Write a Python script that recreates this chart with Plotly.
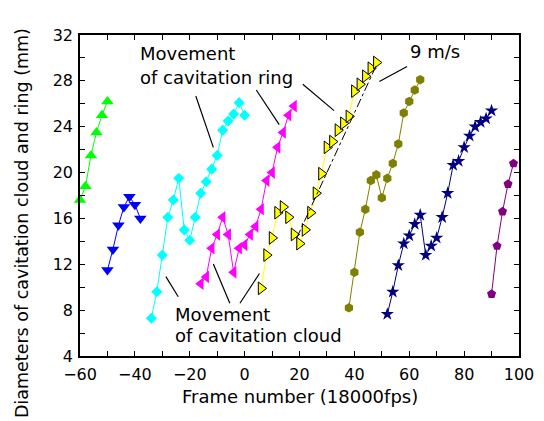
import plotly.graph_objects as go

# ---------------- data ----------------
g_x = [-60, -58, -56, -54, -52, -50]
g_y = [17.6, 18.8, 21.5, 23.5, 25.0, 26.2]

b_x = [-50, -48, -46, -44, -42, -40, -38]
b_y = [11.5, 13.3, 15.4, 17.0, 17.9, 17.2, 16.0]

c_x = [-34, -32, -30, -28, -26, -24, -22, -20, -18, -16, -14, -12, -10, -8, -6, -4, -2, 0]
c_y = [7.3, 9.6, 12.8, 16.1, 17.6, 19.5, 15.0, 14.1, 16.1, 18.2, 19.2, 20.3, 21.5, 23.7, 24.5, 25.1, 26.1, 25.0]

m_x = [-16, -14, -12, -10, -8, -6, -4, -2, 0, 2, 4, 6, 8, 10, 12, 14, 16, 18]
m_y = [10.3, 10.9, 13.4, 14.6, 16.1, 14.6, 11.3, 13.4, 13.7, 14.6, 15.3, 16.8, 19.3, 20.0, 22.2, 23.5, 25.0, 25.8]

y_x = [6, 8, 10, 12, 14, 16, 18, 20, 22, 24, 26, 28, 30, 32, 34, 36, 38, 40, 42, 44, 46, 48]
y_y = [9.9, 12.8, 14.3, 16.5, 17.0, 16.1, 14.6, 13.8, 15.0, 16.5, 18.2, 19.9, 22.2, 22.7, 23.7, 24.3, 24.9, 27.1, 27.7, 28.4, 29.1, 29.6]

o_x = [38, 40, 42, 44, 46, 48, 50, 52, 54, 56, 58, 60, 62, 64]
o_y = [8.2, 11.3, 14.8, 16.8, 19.3, 19.8, 17.8, 19.5, 20.8, 22.5, 25.2, 26.2, 27.2, 28.1]

n_x = [52, 54, 56, 58, 60, 62, 64, 66, 68, 70, 72, 74, 76, 78, 80, 82, 84, 86, 88, 90]
n_y = [7.65, 9.6, 11.9, 13.8, 14.5, 15.5, 16.3, 12.8, 13.6, 14.3, 16.1, 18.2, 20.65, 21.0, 22.2, 23.2, 24.0, 24.4, 24.7, 25.4]

p_x = [90, 92, 94, 96, 98]
p_y = [9.4, 13.6, 16.6, 19.0, 20.8]

fit_x = [19.0, 48.1]
fit_y = [14.3, 29.4]

x_ticks = [-60, -40, -20, 0, 20, 40, 60, 80, 100]
y_ticks = [4, 8, 12, 16, 20, 24, 28, 32]

FONT = "DejaVu Sans"

series = [
    (g_x, g_y, "#00ff00", "triangle-up", 11, None),
    (b_x, b_y, "#0000ff", "triangle-down", 11, None),
    (c_x, c_y, "#00ffff", "diamond", 8.5, None),
    (m_x, m_y, "#ff00ff", "triangle-left", 11, None),
    (y_x, y_y, "#ffff00", "triangle-right", 11, "black"),
    (o_x, o_y, "#808000", "hexagon", 9.5, None),
    (n_x, n_y, "#000080", "star", 10, None),
    (p_x, p_y, "#800080", "pentagon", 9.5, None),
]

fig = go.Figure()
for xs, ys, col, sym, sz, outline in series:
    fig.add_trace(go.Scatter(
        x=xs, y=ys, mode="lines+markers",
        line=dict(color=col, width=1),
        marker=dict(symbol=sym, size=sz, color=col,
                    line=dict(color=outline if outline else col, width=1 if outline else 0)),
        showlegend=False, cliponaxis=False))

fig.add_trace(go.Scatter(x=fit_x, y=fit_y, mode="lines",
                         line=dict(color="black", width=1, dash="dashdot"),
                         showlegend=False))

# leader lines (data coords)
leaders = [
    (-17.8, 26.68, -11.4, 22.2),
    (4.26, 27.2, 12.6, 24.18),
    (21.2, 27.7, 32.6, 25.4),
    (49.1, 27.94, 59.2, 29.25),
    (-28.7, 10.92, -24.2, 9.17),
    (-11.4, 12.03, -5.4, 8.6),
    (-1.7, 8.6, 5.4, 11.2),
]
for x0, y0, x1, y1 in leaders:
    fig.add_shape(type="line", x0=x0, y0=y0, x1=x1, y1=y1, xref="x", yref="y",
                  line=dict(color="black", width=1.2))

texts = [
    ("Movement", -38.8, 30.4),
    ("of cavitation ring", -38.8, 28.3),
    ("Movement", -26.0, 7.6),
    ("of cavitation cloud", -26.0, 5.8),
    ("9 m/s", 59.5, 30.6),
]
for t, x, y in texts:
    fig.add_annotation(text=t, x=x, y=y, xref="x", yref="y", xanchor="left",
                       yanchor="middle", showarrow=False,
                       font=dict(family=FONT, size=18, color="black"))

# axis titles as paper annotations
fig.add_annotation(text="Frame number (18000fps)", x=0.5, y=0, xref="paper", yref="paper",
                   xanchor="center", yanchor="middle", yshift=-40, showarrow=False,
                   font=dict(family=FONT, size=18, color="black"))
fig.add_annotation(text="Diameters of cavitation cloud and ring (mm)", x=0, y=0.414,
                   xref="paper", yref="paper", xanchor="center", yanchor="middle",
                   xshift=-58, textangle=-90, showarrow=False,
                   font=dict(family=FONT, size=17.5, color="black"))

axis_common = dict(showline=True, linecolor="black", linewidth=1.5, mirror="ticks",
                   ticks="inside", ticklen=5, tickwidth=1, tickcolor="black",
                   showgrid=False, zeroline=False, automargin=False,
                   tickfont=dict(family=FONT, size=16, color="black"))

fig.update_xaxes(range=[-60, 100], tickvals=x_ticks, ticklabelstandoff=3,
                 minor=dict(dtick=10, ticks="inside", ticklen=5, tickcolor="black", showgrid=False),
                 **axis_common)
fig.update_yaxes(range=[4, 32], tickvals=y_ticks, ticklabelstandoff=2,
                 minor=dict(dtick=2, ticks="inside", ticklen=5, tickcolor="black", showgrid=False),
                 **axis_common)

# the page body adds an 8px margin, so the figure is 8px smaller on each axis
fig.update_layout(width=536, height=413, margin=dict(l=72, r=25, t=27, b=65),
                  paper_bgcolor="white", plot_bgcolor="white",
                  font=dict(family=FONT, color="black"))

fig.write_html("out.html")
